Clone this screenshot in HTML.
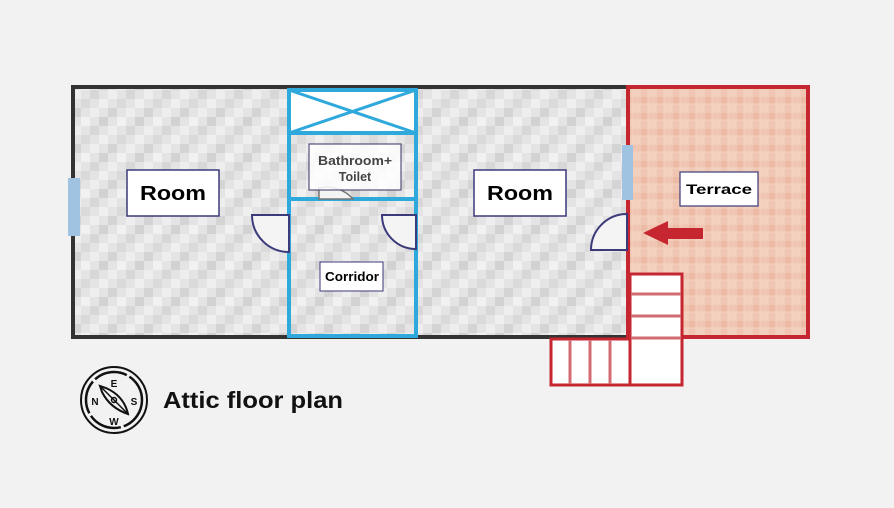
<!DOCTYPE html>
<html><head><meta charset="utf-8"><style>
html,body{margin:0;padding:0;background:#f2f2f2;}
svg{display:block;}
text{font-family:"Liberation Sans",sans-serif;font-weight:bold;}
</style></head><body>
<svg width="894" height="508" viewBox="0 0 894 508" xmlns="http://www.w3.org/2000/svg">
<defs>
<pattern id="g" width="36" height="36" patternUnits="userSpaceOnUse">
<rect width="36" height="36" fill="#e4e4e4"/>
<rect x="0" y="0" width="9" height="9" fill="#d4d4d4"/>
<rect x="18" y="0" width="9" height="9" fill="#eeeeee"/>
<rect x="9" y="9" width="9" height="9" fill="#f1f1f1"/>
<rect x="27" y="9" width="9" height="9" fill="#d2d2d2"/>
<rect x="0" y="18" width="9" height="9" fill="#eeeeee"/>
<rect x="18" y="18" width="9" height="9" fill="#d7d7d7"/>
<rect x="9" y="27" width="9" height="9" fill="#dadada"/>
<rect x="27" y="27" width="9" height="9" fill="#efefef"/>
</pattern>
<pattern id="t" width="16" height="16" patternUnits="userSpaceOnUse">
<rect width="16" height="16" fill="#f0c6b2"/>
<rect width="8" height="8" fill="#ecbba5"/>
<rect x="8" y="8" width="8" height="8" fill="#f3cfbd"/>
<path d="M0 0H16M0 8H16M0 0V16M8 0V16" stroke="#f6d8ca" stroke-width="0.8"/>
</pattern>
</defs>
<rect x="73" y="87" width="555" height="250" fill="url(#g)"/>
<rect x="628" y="87" width="180" height="250" fill="url(#t)"/>
<path d="M628 87H73V337H628" fill="none" stroke="#333" stroke-width="4"/>
<path d="M628 87H808V337H628Z" fill="none" stroke="#c6262f" stroke-width="4"/>
<line x1="628" y1="87" x2="628" y2="337" stroke="#c6262f" stroke-width="3"/>
<rect x="289" y="90" width="127" height="43" fill="#fff"/>
<rect x="289" y="90" width="127" height="246" fill="none" stroke="#2fa8dc" stroke-width="4"/>
<line x1="289" y1="133" x2="416" y2="133" stroke="#2fa8dc" stroke-width="4"/>
<line x1="289" y1="90" x2="416" y2="133" stroke="#2fa8dc" stroke-width="3"/>
<line x1="416" y1="90" x2="289" y2="133" stroke="#2fa8dc" stroke-width="3"/>
<line x1="289" y1="199" x2="416" y2="199" stroke="#2fa8dc" stroke-width="4"/>
<rect x="68" y="178" width="12" height="58" fill="#9fc3e0"/>
<rect x="622" y="145" width="11" height="55" fill="#9fc3e0"/>
<path d="M289 215H252A37 37 0 0 0 289 252Z" fill="#f4f4f4" stroke="#3b3a7a" stroke-width="2"/>
<path d="M416 215H382A34 34 0 0 0 416 249Z" fill="#f4f4f4" stroke="#3b3a7a" stroke-width="2"/>
<path d="M627 250H591A36 36 0 0 1 627 214Z" fill="#f4f4f4" stroke="#3b3a7a" stroke-width="2"/>
<path d="M319 199V188A35 35 0 0 1 353 199Z" fill="#f4f4f4" stroke="#777" stroke-width="1.5"/>
<rect x="127" y="170" width="92" height="46" fill="#fff" stroke="#3b3a7a" stroke-width="1.5"/>
<text x="140" y="200" font-size="20" textLength="66" lengthAdjust="spacingAndGlyphs">Room</text>
<rect x="474" y="170" width="92" height="46" fill="#fff" stroke="#3b3a7a" stroke-width="1.5"/>
<text x="487" y="200" font-size="20" textLength="66" lengthAdjust="spacingAndGlyphs">Room</text>
<rect x="309" y="144" width="92" height="46" fill="#fff" fill-opacity="0.85" stroke="#55507a" stroke-width="1.2"/>
<text x="318" y="165" font-size="12.5" fill="#444" textLength="74" lengthAdjust="spacingAndGlyphs">Bathroom+</text>
<text x="355" y="181" font-size="12.5" text-anchor="middle" fill="#444">Toilet</text>
<rect x="320" y="262" width="63" height="29" fill="#fff" stroke="#3b3a7a" stroke-width="1"/>
<text x="325" y="281" font-size="12.5" textLength="54" lengthAdjust="spacingAndGlyphs">Corridor</text>
<rect x="680" y="172" width="78" height="34" fill="#fff" stroke="#3b3a7a" stroke-width="1.2"/>
<text x="686" y="194" font-size="14" textLength="66" lengthAdjust="spacingAndGlyphs">Terrace</text>
<path d="M643 233L668 221V228H703V239H668V245Z" fill="#c6262f"/>
<rect x="630" y="274" width="52" height="111" fill="#fff" stroke="#c6262f" stroke-width="3"/>
<rect x="551" y="339" width="79" height="46" fill="#fff" stroke="#c6262f" stroke-width="3"/>
<g stroke="#d26b72" stroke-width="3">
<line x1="631" y1="294" x2="681" y2="294"/>
<line x1="631" y1="316" x2="681" y2="316"/>
<line x1="631" y1="338" x2="681" y2="338"/>
<line x1="570" y1="340" x2="570" y2="384"/>
<line x1="590" y1="340" x2="590" y2="384"/>
<line x1="610" y1="340" x2="610" y2="384"/>
</g>
<g fill="none" stroke="#111">
<circle cx="114" cy="400" r="33" stroke-width="2"/>
<circle cx="114" cy="400" r="28" stroke-width="2.5" stroke-dasharray="34 3"/>
<path d="M100 386L106 388Q124 396 128 414Q110 408 102 392Z" stroke-width="2"/>
<path d="M100 386L128 414" stroke-width="1.5"/>
<circle cx="114" cy="400" r="2.5" stroke-width="1.5"/>
</g>
<g font-size="10" text-anchor="middle" fill="#111">
<text x="114" y="387">E</text>
<text x="95" y="405">N</text>
<text x="134" y="405">S</text>
<text x="114" y="425">W</text>
</g>
<text x="163" y="408" font-size="23" fill="#111" textLength="180" lengthAdjust="spacingAndGlyphs">Attic floor plan</text>
</svg>
</body></html>
